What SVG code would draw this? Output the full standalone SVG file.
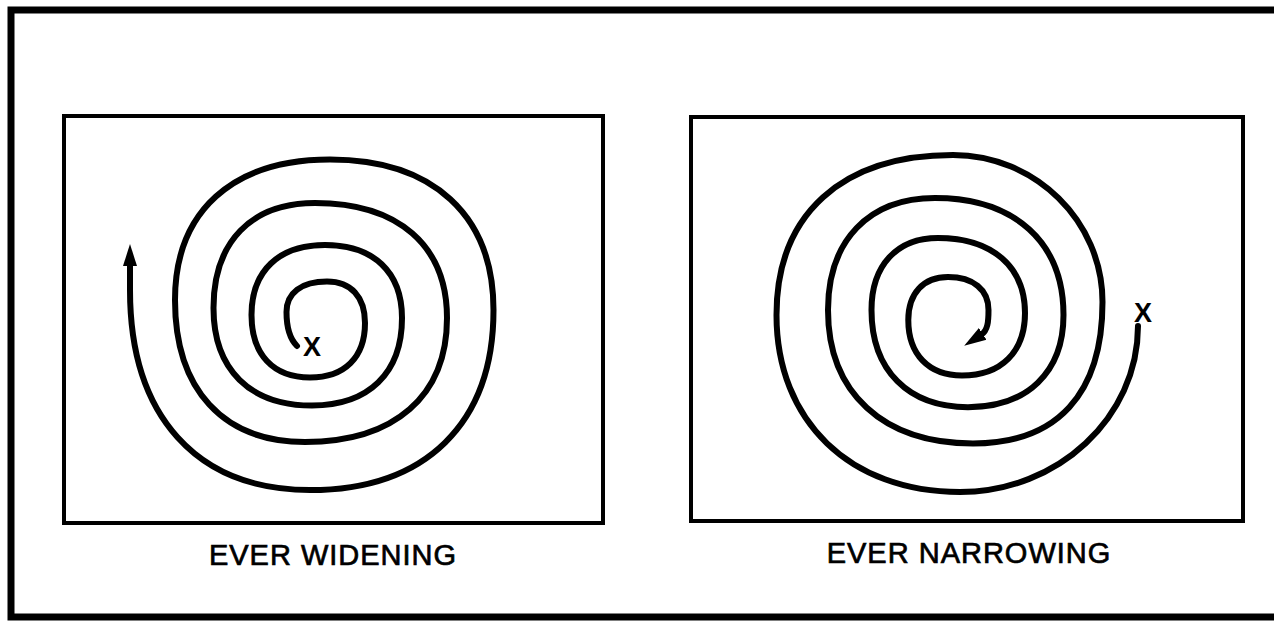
<svg xmlns="http://www.w3.org/2000/svg" width="1274" height="622" viewBox="0 0 1274 622">
<style>
.frame{fill:none;stroke:#000;stroke-width:7}
.box{fill:none;stroke:#000;stroke-width:4}
.spiral{fill:none;stroke:#000;stroke-width:6;stroke-linecap:round;stroke-linejoin:round}
.lbl{font-family:"Liberation Sans",Arial,Helvetica,sans-serif;font-size:29px;letter-spacing:1px;text-anchor:middle;fill:#000;stroke:#000;stroke-width:0.7px}
.mark{font-family:"Liberation Sans",Arial,Helvetica,sans-serif;font-size:27px;font-weight:bold;text-anchor:middle;fill:#000}
</style>
<defs>
<marker id="arr" markerUnits="userSpaceOnUse" markerWidth="24" markerHeight="16" refX="2" refY="8" orient="auto">
<path d="M0,1 L22,8 L0,15 z" fill="#000"/>
</marker>
</defs>
<rect width="1274" height="622" fill="#fff"/>
<rect class="frame" x="11" y="10" width="1290" height="607"/>
<g id="left-panel">
<rect class="box" x="64" y="116" width="539" height="407"/>
<text class="lbl" x="333" y="565">EVER WIDENING</text>
</g>
<g id="right-panel">
<rect class="box" x="691" y="117" width="552" height="404"/>
<text class="lbl" x="969" y="563">EVER NARROWING</text>
</g>
<g id="connectors">
<path id="widening-spiral" class="spiral" marker-end="url(#arr)" d="M297,346 C289,338 286.5,326 286.5,312 C286.5,292.8 301.5,281.5 327,281.5 C351,281.5 365,296.9 365,323 C365,357.3 344.7,377.5 310,377.5 C273.1,377.5 251.5,354.4 251.5,315 C251.5,270.9 278.7,245 325,245 C373.5,245 402,272 402,318 C402,373.1 368.7,405.5 312,405.5 C249.9,405.5 213.5,369.4 213.5,308 C213.5,241.9 251.1,203 315,203 C398.2,203 447,245.5 447,318 C447,396.1 394.5,442 305,442 C223.1,442 175,389.5 175,300 C175,211.5 232.4,159.5 330,159.5 C433,159.5 493.5,215.2 493.5,310 C493.5,423.4 425.6,490 310,490 C196.6,490 130,416 130,290 L130,264"/>
<path id="narrowing-spiral" class="spiral" marker-end="url(#arr)" d="M1138,326 C1138,417.3 1057.9,492 960,492 C849.9,492 776.5,421.2 776.5,315 C776.5,214.2 841.8,155 953,155 C1035.2,155 1102.5,221.1 1102.5,302 C1102.5,394 1057.2,443.5 973,443.5 C883.1,443.5 828,392.8 828,310 C828,240.6 868.7,198 935,198 C1014.7,198 1063.5,242.5 1063.5,315 C1063.5,372.2 1027.2,407.2 968,407.2 C908.2,407.2 871.5,370.3 871.5,310 C871.5,265.4 896.8,238 938,238 C991.9,238 1025,266.5 1025,313 C1025,351.8 1001.1,375.5 962,375.5 C928.7,375.5 908.3,354.4 908.3,320 C908.3,293.3 923.4,277 948,277 C973.1,277 988.5,289.5 988.5,310 C988.5,321 988,330.5 981,335"/>
</g>
<g id="marks">
<text class="mark" x="312" y="356">X</text>
<text class="mark" x="1143" y="322">X</text>
</g>
</svg>
